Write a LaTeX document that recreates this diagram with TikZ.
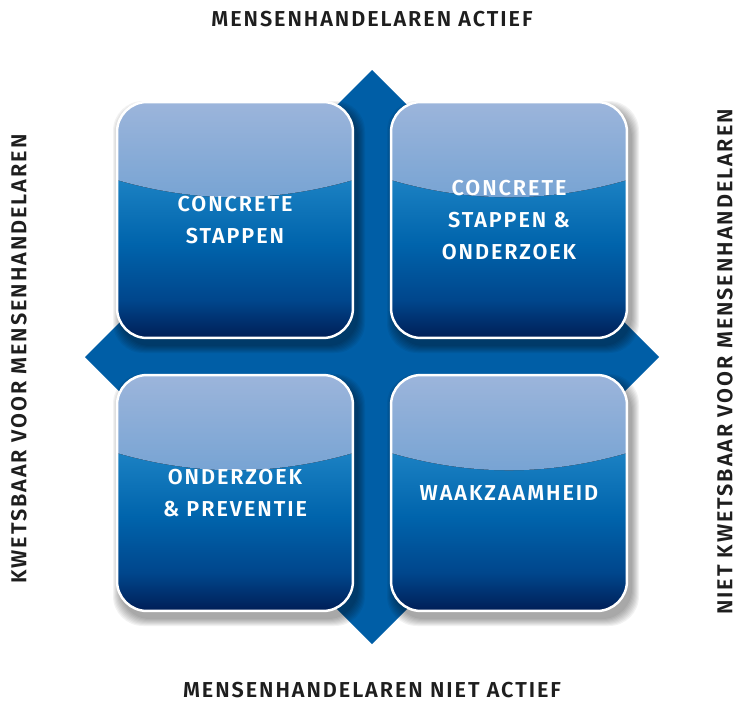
\documentclass[tikz,border=0pt]{standalone}
\usepackage{fontspec}
\setmainfont{Fira Sans}
\newfontfamily\lblfont[LetterSpace=9]{Fira Sans SemiBold}
\usetikzlibrary{calc}
\definecolor{diamondblue}{RGB}{0,94,166}
\definecolor{glosstop}{RGB}{156,181,219}
\definecolor{glossbot}{RGB}{66,138,200}
\definecolor{quadbright}{RGB}{26,128,194}
\definecolor{quadmid}{RGB}{0,100,172}
\definecolor{quadlow}{RGB}{0,70,140}
\definecolor{quaddark}{RGB}{0,30,86}
\definecolor{labeltext}{RGB}{30,30,30}
\pgfdeclareverticalshading{quadshade}{100bp}{color(0bp)=(quaddark); color(25bp)=(quaddark);
  color(33bp)=(quadlow); color(45bp)=(quadmid); color(58bp)=(quadbright); color(100bp)=(quadbright)}

\begin{document}
\begin{tikzpicture}[x=0.02cm,y=-0.02cm,
  quadbox/.style={draw=white,line width=1.4pt,rounded corners=0.6cm,
    minimum width=4.72cm,minimum height=4.72cm,shading=quadshade,
    font=\lblfont\fontsize{12.3}{18}\selectfont,text=white,align=center,
    path picture={\fill[sharp corners,top color=glosstop,bottom color=glossbot]
      (path picture bounding box.north west) -- (path picture bounding box.north east)
      -- ($(path picture bounding box.north east)+(0,78)$)
      .. controls +(-80,23) and +(80,23) .. ($(path picture bounding box.north west)+(0,78)$) -- cycle;}},
  axislabel/.style={font=\lblfont\fontsize{12.3}{15}\selectfont,text=labeltext,inner sep=0pt}]
\useasboundingbox (0,0) rectangle (738,703);
% cross behind the quadrants
\fill[diamondblue] (372,70) -- (659,357) -- (372,644) -- (85,357) -- cycle;
% soft shadows
\foreach \cx/\cy in {235/220,509/220,235/493,509/493}{
  \foreach \k in {1,...,8}{
    \fill[black,opacity=0.05,rounded corners=0.6cm] (\cx-118+4-\k,\cy-118+7-\k) rectangle (\cx+118+4+\k,\cy+118+7+\k);}}
% quadrants
\node[quadbox] (topleft) at (235,220) {CONCRETE\\STAPPEN};
\node[quadbox] (topright) at (509,220) {CONCRETE\\STAPPEN \&\\ONDERZOEK};
\node[quadbox] (botleft) at (235,493) {ONDERZOEK\\\& PREVENTIE};
\node[quadbox] (botright) at (509,493) {WAAKZAAMHEID};
% axis labels
\node[axislabel] (toplabel) at (372,19) {MENSENHANDELAREN ACTIEF};
\node[axislabel] (botlabel) at (372,690) {MENSENHANDELAREN NIET ACTIEF};
\node[axislabel,rotate=90] (leftlabel) at (19,359) {KWETSBAAR VOOR MENSENHANDELAREN};
\node[axislabel,rotate=90] (rightlabel) at (725,362) {NIET KWETSBAAR VOOR MENSENHANDELAREN};
\end{tikzpicture}
\end{document}
